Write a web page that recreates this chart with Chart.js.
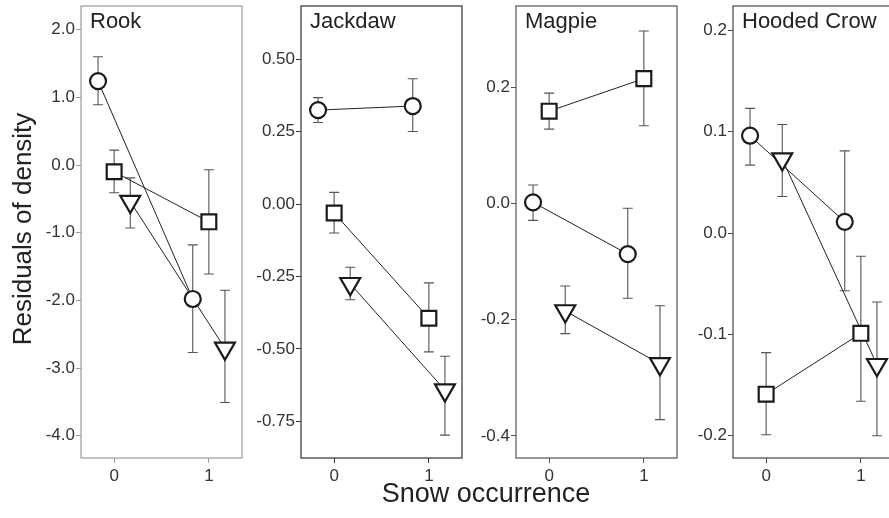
<!DOCTYPE html>
<html>
<head>
<meta charset="utf-8">
<script src="https://cdn.jsdelivr.net/npm/chart.js@4.4.1/dist/chart.umd.min.js"></script>
<style>
    html, body { margin: 0; padding: 0; background: #fff; overflow: hidden; }
    #wrap { position: relative; width: 889px; height: 518px; font-family: 'Liberation Sans', Arial, sans-serif; color: #222; overflow: hidden; }
    canvas { position: absolute; top: -14px; }
    #ytitle {
        position: absolute; left: -128px; top: 214px; width: 300px; height: 30px; line-height: 30px;
        text-align: center; font-size: 26px; transform: rotate(-90deg);
    }
    #xtitle {
        position: absolute; left: 336px; top: 476px; width: 300px; height: 34px; line-height: 34px;
        text-align: center; font-size: 27px;
    }
</style>
</head>
<body>
<div id="wrap">
    <canvas id="rook" width="231" height="504"></canvas>
    <canvas id="jackdaw" width="231" height="504"></canvas>
    <canvas id="magpie" width="231" height="504"></canvas>
    <canvas id="crow" width="231" height="504"></canvas>
    <div id="ytitle">Residuals of density</div>
    <div id="xtitle">Snow occurrence</div>
</div>
<script>
// ============================================
// Data: [mean, lower, upper] at snow = 0 and snow = 1
// ============================================
const snow = [0, 1];
const xTicks = [0, 1];

const rookTicks = [-4, -3, -2, -1, 0, 1, 2];
const rookCircle = [[1.24, 0.89, 1.60], [-1.98, -2.77, -1.18]];
const rookSquare = [[-0.10, -0.41, 0.22], [-0.84, -1.61, -0.07]];
const rookTriangle = [[-0.54, -0.93, -0.19], [-2.71, -3.51, -1.85]];

const jackdawTicks = [-0.75, -0.5, -0.25, 0, 0.25, 0.5];
const jackdawCircle = [[0.324, 0.281, 0.367], [0.338, 0.250, 0.432]];
const jackdawSquare = [[-0.031, -0.100, 0.040], [-0.394, -0.510, -0.272]];
const jackdawTriangle = [[-0.275, -0.330, -0.218], [-0.642, -0.797, -0.525]];

const magpieTicks = [-0.4, -0.2, 0, 0.2];
const magpieCircle = [[0.002, -0.029, 0.032], [-0.087, -0.163, -0.008]];
const magpieSquare = [[0.159, 0.128, 0.190], [0.215, 0.134, 0.297]];
const magpieTriangle = [[-0.185, -0.224, -0.142], [-0.276, -0.372, -0.176]];

const crowTicks = [-0.2, -0.1, 0, 0.1, 0.2];
const crowCircle = [[0.096, 0.067, 0.123], [0.011, -0.057, 0.081]];
const crowSquare = [[-0.159, -0.199, -0.118], [-0.099, -0.166, -0.023]];
const crowTriangle = [[0.073, 0.036, 0.107], [-0.130, -0.200, -0.068]];

// horizontal dodge so the three groups don't overlap
const dodge = { circle: -0.17, square: 0, triangle: 0.17 };

const markers = {
    circle: { pointStyle: 'circle', pointRadius: 8, pointRotation: 0 },
    square: { pointStyle: 'rect', pointRadius: 10.5, pointRotation: 0 },
    triangle: { pointStyle: 'triangle', pointRadius: 11.5, pointRotation: 180 },
};

const FONT = '"Liberation Sans", Arial, sans-serif';

// box around plot area + panel name
const panelBox = {
    id: 'panelBox',
    afterDraw(chart, args, opts) {
        const { ctx, chartArea: a } = chart;
        ctx.save();
        ctx.strokeStyle = opts.color;
        ctx.lineWidth = 1.2;
        ctx.strokeRect(a.left, a.top, a.right - a.left, a.bottom - a.top);
        ctx.fillStyle = '#222';
        ctx.font = '22px ' + FONT;
        ctx.textBaseline = 'alphabetic';
        ctx.fillText(opts.name, a.left + 9, a.top + 22);
        ctx.restore();
    },
};

// vertical error bars with caps, drawn under the markers
const errorBars = {
    id: 'errorBars',
    beforeDatasetsDraw(chart) {
        const { ctx, scales: { x, y } } = chart;
        ctx.save();
        ctx.strokeStyle = '#555';
        ctx.lineWidth = 1.1;
        chart.data.datasets.forEach(ds => {
            if (!ds.errors) return;
            ds.data.forEach((p, i) => {
                const px = x.getPixelForValue(p.x);
                const lo = y.getPixelForValue(ds.errors[i][0]);
                const hi = y.getPixelForValue(ds.errors[i][1]);
                ctx.beginPath();
                ctx.moveTo(px, lo); ctx.lineTo(px, hi);
                ctx.moveTo(px - 5, lo); ctx.lineTo(px + 5, lo);
                ctx.moveTo(px - 5, hi); ctx.lineTo(px + 5, hi);
                ctx.stroke();
            });
        });
        ctx.restore();
    },
};

function buildDatasets(series) {
    const lines = [];
    const points = [];
    Object.entries(series).forEach(([kind, rows]) => {
        const data = rows.map((r, i) => ({ x: snow[i] + dodge[kind], y: r[0] }));
        lines.push({
            data,
            showLine: true,
            borderColor: '#222',
            borderWidth: 1,
            pointRadius: 0,
            order: 2,
        });
        points.push({
            data,
            errors: rows.map(r => [r[1], r[2]]),
            showLine: false,
            ...markers[kind],
            pointBorderWidth: 2.2,
            pointBorderColor: '#1a1a1a',
            pointBackgroundColor: '#fff',
            order: 1,
        });
    });
    return [...lines, ...points];
}

function renderPanel(canvasId, name, left, yMin, yMax, ticks, digits, boxColor, series) {
    const canvas = document.getElementById(canvasId);
    canvas.style.left = left + 'px';

    new Chart(canvas.getContext('2d'), {
        type: 'scatter',
        data: { datasets: buildDatasets(series) },
        options: {
            responsive: false,
            animation: false,
            layout: { padding: { top: 20, right: 20, left: 0, bottom: 0 } },
            plugins: {
                legend: { display: false },
                tooltip: { enabled: false },
                panelBox: { name, color: boxColor },
            },
            scales: {
                x: {
                    type: 'linear',
                    min: -0.35, max: 1.35,
                    afterBuildTicks: s => { s.ticks = xTicks.map(v => ({ value: v })); },
                    afterFit: s => { s.height = 32; },
                    grid: { drawOnChartArea: false, drawTicks: true, tickLength: 5, color: boxColor },
                    border: { display: false },
                    ticks: {
                        color: '#333', padding: 3,
                        font: { family: FONT, size: 17 },
                        callback: v => String(v),
                    },
                },
                y: {
                    min: yMin, max: yMax,
                    afterBuildTicks: s => { s.ticks = ticks.map(v => ({ value: v })); },
                    afterFit: s => { s.width = 50; },
                    grid: { drawOnChartArea: false, drawTicks: true, tickLength: 5, color: boxColor },
                    border: { display: false },
                    ticks: {
                        color: '#333', padding: 1,
                        font: { family: FONT, size: 17 },
                        callback: v => v.toFixed(digits),
                    },
                },
            },
        },
        plugins: [errorBars, panelBox],
    });
}

renderPanel('rook', 'Rook', 31, -4.33, 2.35, rookTicks, 1, '#999',
    { circle: rookCircle, square: rookSquare, triangle: rookTriangle });
renderPanel('jackdaw', 'Jackdaw', 251, -0.876, 0.683, jackdawTicks, 2, '#333',
    { circle: jackdawCircle, square: jackdawSquare, triangle: jackdawTriangle });
renderPanel('magpie', 'Magpie', 466, -0.438, 0.34, magpieTicks, 1, '#555',
    { circle: magpieCircle, square: magpieSquare, triangle: magpieTriangle });
renderPanel('crow', 'Hooded Crow', 683, -0.222, 0.224, crowTicks, 1, '#444',
    { circle: crowCircle, square: crowSquare, triangle: crowTriangle });
</script>
</body>
</html>
